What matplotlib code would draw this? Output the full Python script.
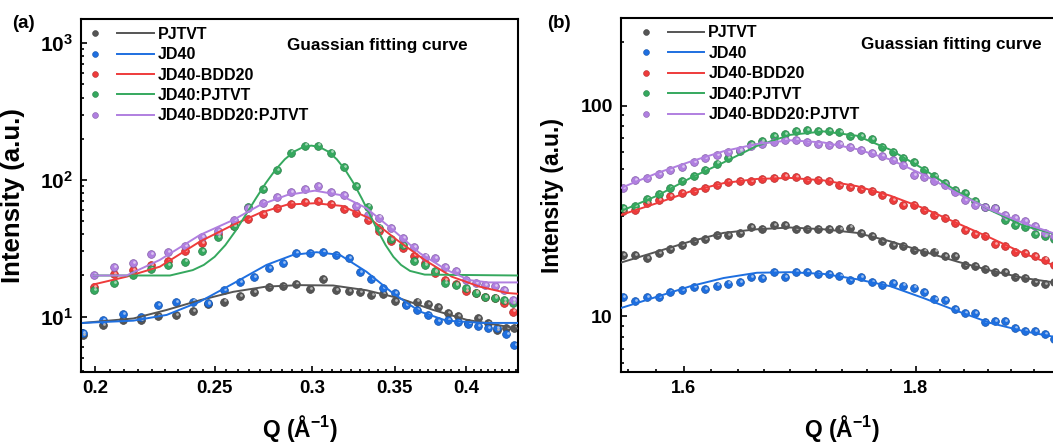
import matplotlib
matplotlib.use("Agg")
import matplotlib.pyplot as plt
import matplotlib.colors as mcolors
import matplotlib.transforms as mtransforms
import numpy as np
from matplotlib.lines import Line2D
from matplotlib.legend_handler import HandlerTuple
from matplotlib.ticker import FixedLocator, FuncFormatter, LogLocator, NullFormatter

plt.rcParams['font.family'] = 'Liberation Sans'
plt.rcParams['font.weight'] = 'bold'
plt.rcParams['mathtext.fontset'] = 'custom'
plt.rcParams['mathtext.rm'] = 'Liberation Sans:bold'
plt.rcParams['mathtext.bf'] = 'Liberation Sans:bold'
plt.rcParams['mathtext.it'] = 'Liberation Sans:bold'
plt.rcParams['mathtext.sf'] = 'Liberation Sans:bold'
plt.rcParams['mathtext.default'] = 'bf'

names = ["PJTVT", "JD40", "JD40-BDD20", "JD40:PJTVT", "JD40-BDD20:PJTVT"]
colors = ["#555555", "#1e6fe0", "#ee3b3b", "#35a85e", "#b07fe0"]

# ---- panel (a): low-q peak ----
q_a = [0.1955, 0.203, 0.2105, 0.218, 0.225, 0.2325, 0.24, 0.247, 0.2545, 0.262,
       0.269, 0.2765, 0.284, 0.291, 0.2985, 0.306, 0.3135, 0.321, 0.328, 0.335,
       0.3425, 0.35, 0.357, 0.3645, 0.372, 0.379, 0.3865, 0.394, 0.4015, 0.409,
       0.4165, 0.4235, 0.431, 0.4375]
q_b = [0.1995, 0.207, 0.2145, 0.222, 0.229, 0.2365, 0.244, 0.2515, 0.259, 0.266,
       0.2735, 0.281, 0.2885, 0.296, 0.303, 0.3105, 0.318, 0.3255, 0.333, 0.34,
       0.3475, 0.355, 0.3625, 0.37, 0.377, 0.3845, 0.392, 0.3995, 0.407, 0.414,
       0.4215, 0.429, 0.4365]

a_pjtvt = [7.3, 8.7, 9.4, 9.5, 10.1, 10.3, 11.0, 12.4, 12.9, 14.2, 15.2, 16.4, 16.8,
           17.3, 15.8, 18.8, 15.6, 15.4, 15.2, 14.3, 14.6, 13.0, 12.4, 12.9, 12.4,
           11.8, 10.7, 10.1, 9.0, 9.7, 9.0, 8.0, 8.2, 8.3]
a_jd40 = [7.6, 9.5, 10.5, 10.0, 12.2, 12.8, 12.9, 12.6, 15.6, 17.8, 19.6, 22.8, 24.8,
          29.0, 29.3, 29.9, 28.3, 27.0, 21.3, 18.7, 16.1, 14.9, 12.2, 11.2, 10.3, 9.3,
          9.4, 9.2, 8.9, 8.5, 8.2, 8.2, 7.5, 6.2]
a_bdd = [16.5, 20.6, 22.0, 23.8, 25.5, 30.0, 34.5, 40.0, 46.0, 51.5, 56.5, 62.5, 67.0,
         69.0, 70.0, 66.5, 61.5, 57.0, 50.5, 42.0, 36.0, 32.0, 28.0, 24.5, 21.0, 18.5,
         17.2, 15.5, 15.0, 14.0, 13.8, 12.5, 10.9]
a_blend = [15.7, 17.5, 20.2, 22.2, 23.9, 25.3, 30.4, 38.0, 46.0, 63.1, 85.4, 118.5,
           158.5, 178.2, 178.2, 158.5, 123.9, 90.3, 63.8, 44.8, 36.8, 33.4, 25.5, 23.9,
           21.4, 17.7, 17.0, 16.2, 14.8, 14.0, 13.6, 13.2, 12.6]
a_bdd_blend = [20.0, 23.2, 24.6, 28.7, 29.6, 32.7, 38.1, 42.5, 51.0, 62.0, 67.3, 75.0,
               81.5, 85.4, 90.5, 82.0, 78.0, 64.0, 55.0, 53.0, 44.3, 37.4, 32.5, 27.5,
               27.0, 23.2, 21.4, 18.5, 17.7, 17.0, 16.8, 15.7, 13.2]

fq_a_pjtvt = [0.1955, 0.2148, 0.2286, 0.2433, 0.2589, 0.2754, 0.2931, 0.3119, 0.3319,
              0.3532, 0.3759, 0.3999, 0.44]
fa_pjtvt = [9.0, 9.7, 11.2, 13.2, 15.2, 16.6, 17.0, 16.9, 15.6, 13.6, 11.2, 9.5, 8.2]
fq_a_jd40 = [0.1955, 0.2148, 0.2286, 0.2433, 0.2589, 0.2754, 0.2895, 0.3024, 0.3158,
             0.3319, 0.3488, 0.3667, 0.3853, 0.4126, 0.44]
fa_jd40 = [9.0, 9.35, 10.3, 12.9, 17.5, 23.9, 28.3, 29.6, 28.3, 21.3, 14.8, 10.9, 9.35,
           9.0, 9.0]
fq_a_bdd = [0.1994, 0.2121, 0.2257, 0.2432, 0.2588, 0.2722, 0.2864, 0.3014, 0.3171,
            0.3337, 0.3513, 0.3699, 0.3892, 0.4097, 0.4316, 0.44]
fa_bdd = [17.2, 19.6, 23.2, 35.4, 46.9, 57.5, 66.0, 67.5, 64.5, 52.4, 36.4, 26.0, 19.6,
          16.6, 14.9, 14.7]
fq_a_blend = [0.1995, 0.23, 0.24, 0.245, 0.25, 0.255, 0.26, 0.265, 0.27, 0.275, 0.28,
              0.285, 0.29, 0.295, 0.2995, 0.304, 0.309, 0.314, 0.319, 0.324, 0.329,
              0.334, 0.339, 0.344, 0.349, 0.354, 0.36, 0.37, 0.44]
fa_blend = [20.0, 20.0, 21.9, 23.9, 27.4, 33.3, 42.5, 55.7, 73.2, 94.6, 118.3, 141.5,
            161.1, 174.0, 178.0, 174.0, 161.1, 141.5, 118.3, 94.6, 73.2, 55.7, 42.5,
            33.3, 27.4, 23.9, 21.6, 20.3, 20.0]
fq_a_bdd_blend = [0.1988, 0.2121, 0.2257, 0.2433, 0.2589, 0.2722, 0.2864, 0.3014,
                  0.3158, 0.3319, 0.3488, 0.3667, 0.3853, 0.4023, 0.4166, 0.44]
fa_bdd_blend = [20.0, 20.0, 26.0, 39.6, 51.0, 65.6, 77.6, 83.4, 77.6, 62.1, 43.0, 29.1,
                22.0, 18.5, 17.8, 17.8]

# ---- panel (b): high-q peak ----
q_r = [1.551, 1.5605, 1.570, 1.5795, 1.589, 1.5985, 1.608, 1.6175, 1.627, 1.6365,
       1.646, 1.6555, 1.665, 1.6745, 1.684, 1.6935, 1.703, 1.7125, 1.722, 1.7315,
       1.741, 1.7505, 1.760, 1.7695, 1.779, 1.7885, 1.798, 1.8075, 1.817, 1.8265,
       1.836, 1.8455, 1.855, 1.8645, 1.874, 1.8835, 1.893, 1.9025, 1.912, 1.9215, 1.931]
b_pjtvt = [19.6, 19.6, 18.9, 20.0, 20.9, 21.9, 22.7, 23.2, 24.4, 24.4, 24.9, 26.5, 25.9,
           27.2, 27.2, 25.9, 25.9, 25.9, 25.9, 25.9, 26.4, 24.9, 24.0, 22.7, 21.9, 21.5,
           20.7, 20.3, 20.3, 19.3, 19.3, 17.6, 17.3, 16.7, 16.2, 16.2, 15.4, 15.2, 14.5,
           14.2, 14.6]
b_jd40 = [12.4, 11.8, 12.3, 12.3, 13.0, 13.3, 13.8, 13.5, 14.0, 14.3, 14.5, 15.3, 15.2,
          16.3, 15.4, 16.3, 16.2, 15.8, 15.8, 15.5, 14.9, 15.4, 14.5, 14.1, 14.4, 14.0,
          13.7, 13.1, 12.1, 12.0, 10.8, 10.4, 10.4, 9.4, 9.5, 9.5, 8.8, 8.5, 8.5, 8.2, 7.8]
b_bdd = [31.6, 31.9, 34.5, 35.8, 37.1, 38.5, 39.2, 40.7, 42.2, 43.3, 43.8, 43.8, 44.9,
         45.4, 46.2, 45.9, 44.5, 44.2, 43.8, 42.2, 41.2, 40.2, 39.2, 37.8, 35.8, 33.8,
         33.8, 32.1, 30.3, 29.2, 27.7, 25.8, 24.7, 24.0, 22.1, 21.5, 20.3, 19.9, 19.3,
         18.6, 17.6]
b_blend = [32.7, 33.5, 36.0, 38.2, 40.7, 43.8, 46.5, 49.7, 53.1, 56.5, 60.8, 65.5, 68.0,
           71.5, 73.6, 75.5, 76.3, 75.5, 75.5, 74.7, 71.5, 71.5, 69.5, 63.9, 60.3, 56.5,
           53.8, 49.7, 46.2, 42.9, 39.9, 38.5, 35.1, 33.0, 32.7, 28.7, 27.2, 26.5, 24.7,
           24.0, 23.3]
b_bdd_blend = [40.7, 44.2, 45.4, 47.5, 49.7, 51.1, 53.8, 56.5, 58.5, 60.0, 61.8, 64.6,
               66.0, 66.9, 68.5, 68.5, 66.9, 66.0, 65.2, 66.0, 63.9, 61.4, 59.6, 57.5,
               55.0, 52.5, 47.0, 45.9, 43.8, 42.2, 38.8, 35.8, 33.8, 33.0, 32.7, 30.3,
               29.2, 28.2, 26.7, 25.0, 24.0]

fq_r = [1.5497, 1.5785, 1.6054, 1.6326, 1.6604, 1.6887, 1.7175, 1.7469, 1.7767, 1.8071,
        1.838, 1.8693, 1.9013, 1.9302, 1.9386]
fb_pjtvt = [18.0, 20.3, 22.7, 24.9, 25.9, 26.4, 25.9, 24.9, 22.7, 20.3, 18.2, 16.5, 15.2,
            14.5, 14.3]
fb_jd40 = [10.95, 12.4, 13.9, 15.2, 16.1, 16.2, 15.9, 15.0, 13.9, 12.2, 10.6, 9.3, 8.5,
           8.0, 7.8]
fb_bdd = [30.3, 34.5, 39.2, 42.9, 44.9, 45.4, 44.2, 41.5, 37.4, 32.6, 27.7, 23.6, 19.9,
          17.5, 17.0]
fb_blend = [31.6, 37.4, 45.4, 53.8, 64.4, 72.7, 75.5, 72.0, 61.8, 50.0, 39.2, 31.9, 26.9,
            24.7, 24.2]
fb_bdd_blend = [40.7, 47.9, 54.3, 60.8, 65.8, 68.5, 66.9, 62.2, 55.5, 47.0, 38.5, 32.1,
                27.7, 24.8, 24.2]


def shade(c, f):
    rgb = np.array(mcolors.to_rgb(c))
    if f > 0:
        return tuple(rgb + (1 - rgb) * f)
    return tuple(rgb * (1 + f))


def minor_ticks(majors, lo, hi, n=8):
    ticks = []
    for a, b in zip(majors[:-1], majors[1:]):
        ticks += list(np.linspace(a, b, n + 2)[1:-1])
    step = (majors[1] - majors[0]) / (n + 1)
    t = majors[0] - step
    while t > lo:
        ticks.append(t)
        t -= step
    step = (majors[-1] - majors[-2]) / (n + 1)
    t = majors[-1] + step
    while t < hi:
        ticks.append(t)
        t += step
    return ticks


def draw(ax, pts, fits):
    hl = mtransforms.offset_copy(ax.transData, fig=fig, x=1.1, y=1.1, units='dots')
    for (q, y), (fq, fy), c in zip(pts, fits, colors):
        ax.plot(q, y, 'o', ms=5.6, mfc=c, mec=shade(c, -0.25), mew=0.5, zorder=2)
        ax.plot(q, y, 'o', ms=2.0, mfc=shade(c, 0.55), mec='none', zorder=2.1,
                transform=hl)
        ax.plot(fq, fy, '-', color=c, lw=1.4, zorder=3)


def style(ax, xmaj, xlim, ylim, fs_tick):
    ax.set_xscale('log')
    ax.set_yscale('log')
    ax.set_xlim(*xlim)
    ax.set_ylim(*ylim)
    ax.xaxis.set_major_locator(FixedLocator(xmaj))
    ax.xaxis.set_minor_locator(FixedLocator(minor_ticks(xmaj, xlim[0], xlim[1])))
    ax.xaxis.set_major_formatter(FuncFormatter(lambda v, p: '%g' % v))
    ax.xaxis.set_minor_formatter(NullFormatter())
    ax.yaxis.set_major_locator(LogLocator(base=10))
    ax.yaxis.set_minor_locator(LogLocator(base=10, subs=np.arange(2, 10)))
    ax.yaxis.set_minor_formatter(NullFormatter())
    ax.tick_params(which='both', direction='in', width=1.2, top=False, right=False)
    ax.tick_params(which='major', length=4.5)
    ax.tick_params(which='minor', length=2.3)
    ax.tick_params(axis='x', which='major', labelsize=fs_tick, pad=6)
    ax.tick_params(axis='y', which='major', pad=6)
    for s in ax.spines.values():
        s.set_linewidth(1.5)


def add_legend(ax, x, y):
    handles = [(Line2D([], [], ls='none', marker='o', ms=4.2, mfc=c, mec=shade(c, -0.25),
                       mew=0.4),
                Line2D([], [], color=c, lw=1.4)) for c in colors]
    ax.legend(handles, names, handler_map={tuple: HandlerTuple(ndivide=None, pad=0.24)},
              loc='upper left', bbox_to_anchor=(x, y), frameon=False, fontsize=11.5,
              handlelength=4.8, handletextpad=0.25, borderpad=0, borderaxespad=0,
              labelspacing=0.34)


fig = plt.figure(figsize=(10.53, 4.43), dpi=100)
ax1 = fig.add_axes([81 / 1053, 71 / 443, 437 / 1053, 353 / 443])
ax2 = fig.add_axes([621 / 1053, 71 / 443, 441 / 1053, 353.7 / 443])

draw(ax1, [(q_a, a_pjtvt), (q_a, a_jd40), (q_b, a_bdd), (q_b, a_blend), (q_b, a_bdd_blend)],
     [(fq_a_pjtvt, fa_pjtvt), (fq_a_jd40, fa_jd40), (fq_a_bdd, fa_bdd),
      (fq_a_blend, fa_blend), (fq_a_bdd_blend, fa_bdd_blend)])
draw(ax2, [(q_r, b_pjtvt), (q_r, b_jd40), (q_r, b_bdd), (q_r, b_blend), (q_r, b_bdd_blend)],
     [(fq_r, fb_pjtvt), (fq_r, fb_jd40), (fq_r, fb_bdd), (fq_r, fb_blend),
      (fq_r, fb_bdd_blend)])

style(ax1, [0.2, 0.25, 0.3, 0.35, 0.4], (0.1948, 0.4404), (3.94, 1500), 13.5)
style(ax2, [1.6, 1.8], (1.5497, 1.9386), (5.44, 260), 13)
ax1.yaxis.set_major_formatter(FuncFormatter(lambda v, p: r'$10^{%d}$' % round(np.log10(v))))
ax1.tick_params(axis='y', labelsize=15)
ax2.yaxis.set_major_formatter(FuncFormatter(lambda v, p: '%g' % v))
ax2.tick_params(axis='y', labelsize=14)

ax1.set_ylabel('Intensity (a.u.)', fontsize=18.5, fontweight='bold')
ax1.yaxis.set_label_coords(-0.128, 0.5)
ax2.set_ylabel('Intensity (a.u.)', fontsize=16.5, fontweight='bold')
ax2.yaxis.set_label_coords(-0.13, 0.5)
for ax in (ax1, ax2):
    ax.set_xlabel(r'Q (Å$^{-1}$)', fontsize=16.5, fontweight='bold', va='center')
    ax.xaxis.set_label_coords(0.5, -0.16)

ax1.text(0.677, 0.926, 'Guassian fitting curve', transform=ax1.transAxes, fontsize=12.3,
         ha='center', va='center', fontweight='bold')
ax2.text(0.748, 0.926, 'Guassian fitting curve', transform=ax2.transAxes, fontsize=12.3,
         ha='center', va='center', fontweight='bold')

add_legend(ax1, -0.009, 0.978)
add_legend(ax2, 0.015, 0.98)

fig.text(12 / 1053, 1 - 23 / 443, '(a)', fontsize=13.5, fontweight='bold', va='center')
fig.text(547 / 1053, 1 - 23 / 443, '(b)', fontsize=13.5, fontweight='bold', va='center')

fig.savefig('out.png', dpi=100)
